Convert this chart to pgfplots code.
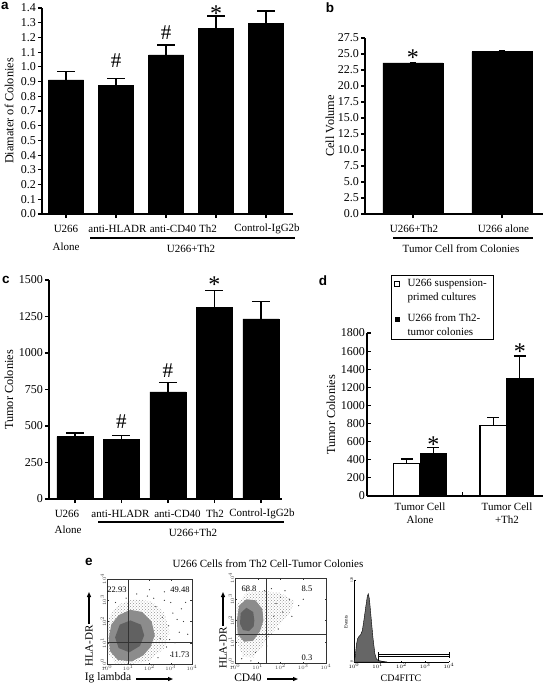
\documentclass[border=0pt]{standalone}
\usepackage{pgfplots}
\pgfplotsset{compat=1.18}
\usepackage{fontspec}
\setmainfont{Liberation Serif}
\newfontfamily\lsans{Liberation Sans}
\usetikzlibrary{patterns,arrows.meta}

\newcommand{\tk}{\fontsize{11}{14}\selectfont}
\newcommand{\yk}{\fontsize{12}{14}\selectfont}
\newcommand{\lb}{\fontsize{12.3}{14}\selectfont}
\newcommand{\pl}{\lsans\bfseries\fontsize{13.5}{14}\selectfont}
\newcommand{\sg}{\fontsize{21}{21}\selectfont}
\newcommand{\st}{\fontsize{24}{24}\selectfont}
\newcommand{\tn}{\fontsize{3.6}{4}\selectfont}

\pgfplotsset{
  barpanel/.style={
    scale only axis, anchor=south west,
    axis x line*=bottom, axis y line*=left,
    axis line style={line width=1.4pt, black},
    every tick/.style={black, line width=1.1pt},
    tick align=outside, major tick length=4pt,
    ymin=0, ybar, clip=false,
    /pgf/number format/assume math mode=true,
    /pgf/number format/1000 sep={},
    tick label style={font=\yk},
    yticklabel style={inner sep=2pt},
    xticklabels={},
  },
  blackbar/.style={fill=black, draw=black, line width=0.8pt,
    error bars/.cd, y dir=plus, y explicit, error mark=-,
    error bar style={line width=1.3pt, black},
    error mark options={line width=1.3pt, black, mark size=#1, rotate=90}},
  blackbar/.default=9pt,
  whitebar/.style={fill=white, draw=black, line width=1.2pt,
    error bars/.cd, y dir=plus, y explicit, error mark=-,
    error bar style={line width=1.3pt, black},
    error mark options={line width=1.3pt, black, mark size=#1, rotate=90}},
  whitebar/.default=6pt,
  flow/.style={
    scale only axis, anchor=south west,
    xmin=0, xmax=4, ymin=0, ymax=4,
    axis line style={line width=0.6pt, gray!40!black},
    xtick={0,...,4}, ytick={0,...,4},
    xticklabels={$10^0$,$10^1$,$10^2$,$10^3$,$10^4$},
    yticklabels={$10^0$,$10^1$,$10^2$,$10^3$,$10^4$},
    tick label style={font=\tn, text=gray!50!black, inner sep=0.8pt},
    yticklabel style={rotate=90},
    major tick length=1.5pt, tick align=inside,
    every tick/.style={gray!40!black, line width=0.4pt},
  },
}

\begin{document}
\begin{tikzpicture}
\useasboundingbox (0,0) rectangle (546pt,-686pt);

% ---------------- panel a
\begin{axis}[barpanel, at={(42pt,-214pt)}, width=251pt, height=206pt,
  xmin=-0.48, xmax=4.54, ymax=1.4, bar width=35pt,
  xtick={0,...,4},
  ytick={0,0.1,0.2,0.3,0.4,0.5,0.6,0.7,0.8,0.9,1.0,1.1,1.2,1.3,1.4},
  yticklabel style={/pgf/number format/.cd, fixed, fixed zerofill, precision=1}]
\addplot[blackbar] coordinates {(0,0.911) +- (0,0.056) (1,0.872) +- (0,0.050) (2,1.081) +- (0,0.068) (3,1.262) +- (0,0.084) (4,1.292) +- (0,0.088)};
\node[font=\sg] at (axis cs:1,1.04) {\#};
\node[font=\sg] at (axis cs:2,1.234) {\#};
\node[font=\st, anchor=base] at (axis cs:3,1.31) {*};
\end{axis}

% ---------------- panel b
\begin{axis}[barpanel, at={(365pt,-214pt)}, width=178pt, height=176pt,
  xmin=-0.539, xmax=1.461, ymax=27.5, bar width=60pt,
  xtick={0,1},
  ytick={0,2.5,5,7.5,10,12.5,15,17.5,20,22.5,25,27.5},
  yticklabel style={/pgf/number format/.cd, fixed, fixed zerofill, precision=1}]
\addplot[blackbar=3pt] coordinates {(0,23.6) +- (0,0.0) (1,25.35) +- (0,0.25)};
\node[font=\st, anchor=base] at (axis cs:0,23.2) {*};
\end{axis}

% ---------------- panel c
\begin{axis}[barpanel, at={(49pt,-499pt)}, width=233pt, height=219pt,
  xmin=-0.559, xmax=4.452, ymax=1500, bar width=36pt,
  xtick={0,...,4},
  ytick={0,250,500,750,1000,1250,1500}]
\addplot[blackbar] coordinates {(0,427) +- (0,25) (1,411) +- (0,23) (2,733) +- (0,64) (3,1310) +- (0,117) (4,1233) +- (0,118)};
\node[font=\sg] at (axis cs:1,531) {\#};
\node[font=\sg] at (axis cs:2,880) {\#};
\node[font=\st, anchor=base] at (axis cs:3,1412) {*};
\end{axis}

% ---------------- panel d
\begin{axis}[barpanel, at={(367pt,-496pt)}, width=176pt, height=163pt,
  xmin=-0.613, xmax=1.422, ymax=1800, bar width=26.5pt, ybar=0pt,
  tick align=inside, major tick length=3.5pt,
  xtick={0,1},
  xtick style={draw=none},
  ytick={0,200,400,600,800,1000,1200,1400,1600,1800}]
\addplot[whitebar] coordinates {(0,355) +- (0,55) (1,780) +- (0,85)};
\addplot[blackbar=6pt] coordinates {(0,470) +- (0,65) (1,1300) +- (0,245)};
\draw[line width=1.1pt] (axis cs:0.49,0) -- (axis cs:0.49,40);
\node[font=\st, anchor=base, xshift=13.25pt] at (axis cs:0,477) {*};
\node[font=\st, anchor=base, xshift=13.25pt] at (axis cs:1,1503) {*};
\end{axis}

% x category labels
\node[font=\tk] at (66pt,-229pt) {U266};
\node[font=\tk] at (66pt,-247pt) {Alone};
\node[font=\tk] at (117.5pt,-229pt) {anti-HLADR};
\node[font=\tk] at (173pt,-229pt) {anti-CD40};
\node[font=\tk] at (208pt,-229pt) {Th2};
\node[font=\tk] at (267pt,-229pt) {Control-IgG2b};

\node[font=\tk] at (414pt,-229pt) {U266+Th2};
\node[font=\tk] at (503.5pt,-229pt) {U266 alone};

\node[font=\tk] at (67pt,-514pt) {U266};
\node[font=\tk] at (68pt,-530pt) {Alone};
\node[font=\tk] at (120.5pt,-514pt) {anti-HLADR};
\node[font=\tk] at (177.5pt,-514pt) {anti-CD40};
\node[font=\tk] at (215pt,-514pt) {Th2};
\node[font=\tk] at (262pt,-514pt) {Control-IgG2b};

\node[font=\tk] at (420pt,-507pt) {Tumor Cell};
\node[font=\tk] at (420pt,-520pt) {Alone};
\node[font=\tk] at (507pt,-507pt) {Tumor Cell};
\node[font=\tk] at (507pt,-520pt) {+Th2};

% legend of d
\draw[line width=0.8pt, fill=white] (391pt,-275pt) rectangle (493pt,-339pt);
\draw[line width=0.7pt, fill=white] (394.5pt,-281.5pt) rectangle ++(5pt,-5pt);
\fill (394.5pt,-316.5pt) rectangle ++(5.5pt,-5.5pt);
\node[anchor=west, align=left, font=\fontsize{11}{13.5}\selectfont] at (404pt,-291pt) {U266 suspension-\\primed cultures};
\node[anchor=west, align=left, font=\fontsize{11}{13.5}\selectfont] at (404pt,-324.5pt) {U266 from Th2-\\tumor colonies};

% group brackets
\draw[line width=1.2pt] (90pt,-238pt) -- (295pt,-238pt);
\node[font=\tk] at (191pt,-249pt) {U266+Th2};
\draw[line width=1.2pt] (393pt,-238pt) -- (533pt,-238pt);
\node[font=\tk] at (461pt,-249pt) {Tumor Cell from Colonies};
\draw[line width=1.2pt] (98pt,-522pt) -- (284pt,-522pt);
\node[font=\tk] at (193pt,-533pt) {U266+Th2};

% axis titles
\node[rotate=90, font=\lb] at (9pt,-111pt) {Diamater of Colonies};
\node[rotate=90, font=\lb] at (330pt,-126pt) {Cell Volume};
\node[rotate=90, font=\lb] at (9pt,-390pt) {Tumor Colonies};
\node[rotate=90, font=\lb] at (331pt,-415pt) {Tumor Colonies};

% panel letters
\node[font=\pl] at (5pt,-6pt) {a};
\node[font=\pl] at (330pt,-8pt) {b};
\node[font=\pl] at (6pt,-280pt) {c};
\node[font=\pl] at (323pt,-281pt) {d};
\node[font=\pl] at (89pt,-562pt) {e};

% ---------------- panel e
\node[font=\fontsize{11}{12}\selectfont] at (268pt,-564pt) {U266 Cells from Th2 Cell-Tumor Colonies};

% scatter 1
\begin{axis}[flow, at={(107pt,-664pt)}, width=85pt, height=85pt]
\addplot[draw=none, pattern=crosshatch dots, pattern color=gray!85] coordinates {(2.95,1.5) (2.7,2.4) (2.1,2.95) (1.25,3.05) (0.55,2.8) (0.08,2.2) (0.02,1.3) (0.03,0.5) (0.4,0.03) (1.2,0.02) (2.0,0.15) (2.7,0.75)} -- cycle;
\addplot[draw=none, fill=black!45] coordinates {(2.25,1.35) (2.1,2.0) (1.65,2.45) (1.1,2.55) (0.55,2.3) (0.2,1.85) (0.08,1.2) (0.15,0.6) (0.5,0.2) (1.15,0.12) (1.7,0.4) (2.05,0.8)} -- cycle;
\addplot[draw=none, fill=black!62] coordinates {(1.75,1.35) (1.6,1.85) (1.1,2.05) (0.6,1.85) (0.38,1.25) (0.55,0.75) (1.05,0.55) (1.55,0.85)} -- cycle;
\addplot[only marks, mark=*, mark size=0.35pt, gray!50!black] coordinates {(2.3,2.7) (2.6,2.2) (2.9,1.8) (3.1,2.4) (2.7,3.0) (3.4,1.5) (2.2,3.1) (1.9,3.2) (3.0,2.9) (3.6,2.0) (2.5,1.2) (2.8,0.8) (3.2,1.0) (1.4,3.3) (2.4,0.3) (3.0,0.4) (3.8,1.4) (0.9,3.1) (0.4,2.9) (3.5,2.6) (2.0,3.5) (2.7,3.4) (3.3,2.1) (2.95,1.15) (3.7,2.9)};
\draw[gray!40!black, line width=0.6pt] (axis cs:1,0) -- (axis cs:1,4);
\draw[gray!40!black, line width=0.6pt] (axis cs:0,1) -- (axis cs:4,1);
\end{axis}
\node[font=\fontsize{8.5}{9}\selectfont] at (117pt,-590pt) {22.93};
\node[font=\fontsize{8.5}{9}\selectfont] at (180pt,-590pt) {49.48};
\node[font=\fontsize{8.5}{9}\selectfont] at (180pt,-655pt) {11.73};

% scatter 2
\begin{axis}[flow, at={(235pt,-663pt)}, width=91pt, height=85pt]
\addplot[draw=none, pattern=crosshatch dots, pattern color=gray!85] coordinates {(2.4,2.3) (2.6,2.9) (2.0,3.3) (1.2,3.4) (0.5,3.3) (0.08,2.8) (0.05,2.0) (0.08,1.0) (0.35,0.3) (0.8,0.25) (1.2,0.8) (1.7,1.5)} -- cycle;
\addplot[draw=none, fill=black!45] coordinates {(1.25,2.0) (1.2,2.55) (0.9,2.95) (0.5,3.0) (0.18,2.7) (0.08,2.0) (0.12,1.35) (0.4,1.0) (0.8,1.05) (1.1,1.5)} -- cycle;
\addplot[draw=none, fill=black!62] coordinates {(0.85,2.0) (0.8,2.4) (0.5,2.6) (0.25,2.35) (0.22,1.85) (0.35,1.55) (0.62,1.5) (0.82,1.72)} -- cycle;
\addplot[only marks, mark=*, mark size=0.35pt, gray!50!black] coordinates {(1.8,2.8) (2.1,2.4) (2.4,3.0) (1.6,3.5) (2.8,2.7) (1.4,0.8) (0.9,0.5) (0.3,0.2) (0.7,0.1) (1.9,1.6) (2.5,2.2) (1.3,3.4) (0.5,3.4) (2.2,3.4) (3.0,3.0) (1.7,2.2) (2.0,3.1)};
\draw[gray!40!black, line width=0.6pt] (axis cs:1.36,0) -- (axis cs:1.36,4);
\draw[gray!40!black, line width=0.6pt] (axis cs:0,1.36) -- (axis cs:4,1.36);
\end{axis}
\node[font=\fontsize{8.5}{9}\selectfont] at (249pt,-589pt) {68.8};
\node[font=\fontsize{8.5}{9}\selectfont] at (307pt,-589pt) {8.5};
\node[font=\fontsize{8.5}{9}\selectfont] at (307pt,-658pt) {0.3};

% histogram
\begin{axis}[scale only axis, anchor=south west, at={(354pt,-662pt)}, width=95pt, height=82pt,
  xmin=0, xmax=4, ymin=0, ymax=120, axis x line*=bottom, axis y line*=left,
  axis line style={line width=0.6pt, black},
  xtick={0,...,4}, xticklabels={$10^0$,$10^1$,$10^2$,$10^3$,$10^4$},
  ytick={0,120}, yticklabels={0,120},
  tick label style={font=\tn, inner sep=0.8pt}, yticklabel style={rotate=90},
  major tick length=1.5pt, tick align=inside, every tick/.style={black, line width=0.4pt}, clip=false]
\addplot[fill=black!60, draw=black, line width=0.4pt] coordinates {(0,0) (0.05,8) (0.1,25) (0.15,34) (0.2,37) (0.28,40) (0.35,46) (0.42,62) (0.5,82) (0.56,96) (0.6,100) (0.65,92) (0.72,65) (0.8,35) (0.88,12) (0.95,4) (1.05,2) (1.2,1) (1.4,0)} -- cycle;
\draw[line width=0.5pt] (axis cs:1.02,1) -- (axis cs:1.02,14);
\draw[line width=0.5pt] (axis cs:1.02,8) -- (axis cs:4,8);
\draw[line width=0.5pt] (axis cs:1.02,12) -- (axis cs:4,12);
\draw[line width=0.5pt] (axis cs:4,6) -- (axis cs:4,14);
\end{axis}
\node[rotate=90, font=\fontsize{5}{5}\selectfont] at (346pt,-622pt) {Events};
\node[font=\fontsize{10}{11}\selectfont] at (401pt,-678pt) {CD4FITC};

% flow axis labels
\node[rotate=90, font=\fontsize{11}{12}\selectfont] at (89pt,-646pt) {HLA-DR};
\draw[line width=1.1pt, -{Triangle[length=5pt,width=4pt]}] (89pt,-624pt) -- (89pt,-592pt);
\node[font=\fontsize{11.5}{12}\selectfont] at (108pt,-678pt) {Ig lambda};
\draw[line width=1.1pt, -{Triangle[length=5pt,width=4pt]}] (136pt,-679pt) -- (173pt,-679pt);
\node[rotate=90, font=\fontsize{11}{12}\selectfont] at (223pt,-648pt) {HLA-DR};
\draw[line width=1.1pt, -{Triangle[length=5pt,width=4pt]}] (223pt,-626pt) -- (223pt,-592pt);
\node[font=\fontsize{11.5}{12}\selectfont] at (248pt,-678pt) {CD40};
\draw[line width=1.1pt, -{Triangle[length=5pt,width=4pt]}] (267pt,-679pt) -- (298pt,-679pt);

\end{tikzpicture}
\end{document}
